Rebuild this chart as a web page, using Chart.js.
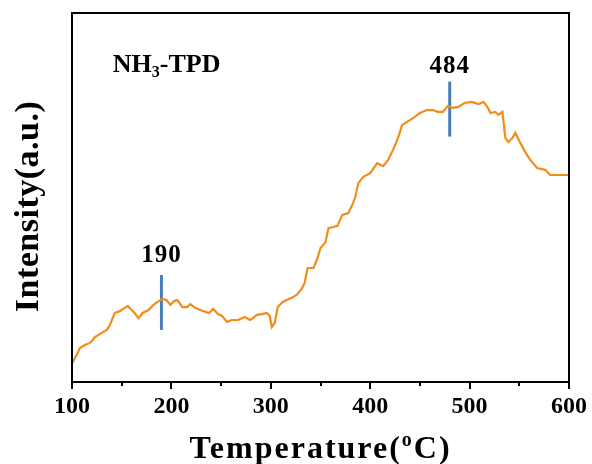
<!DOCTYPE html>
<html>
<head>
<meta charset="utf-8">
<script src="https://cdn.jsdelivr.net/npm/chart.js@4"></script>
<style>
  body { margin: 0; background: #fff; }
  canvas { display: block; }
</style>
</head>
<body>
<canvas id="tpdChart" width="592" height="464"></canvas>
<script>
// NH3-TPD curve (temperature in °C, intensity in arbitrary units)
const temps = [100,104,108,113,118,120,123,130,135,138,143,148,153,156,160,163,167,171,177,182,186,191,195,199,203,206,211,216,219,224,229,234,238,242,247,251,256,261,267,271,274,279,282,286,291,296,299,301,304,307,312,316,321,326,331,334,337,343,347,350,355,358,363,367,372,378,382,385,388,393,400,407,413,418,423,426,429,432,437,443,450,457,463,468,473,478,483,488,495,502,509,514,518,521,526,529,533,536,539,543,546,551,556,561,568,576,581,589,600];
const intensity = [5.0,7.0,9.2,10.0,10.6,11.1,12.2,13.3,14.1,15.4,18.7,19.2,20.1,20.6,19.5,18.7,17.3,18.7,19.5,20.9,21.7,22.5,22.2,20.9,22.0,22.2,20.3,20.3,21.1,20.1,19.5,19.0,18.7,19.8,18.4,17.9,16.3,16.8,16.8,17.3,17.6,16.8,17.3,18.2,18.4,18.7,17.9,14.9,16.0,20.3,21.7,22.2,22.8,23.6,25.2,26.8,30.9,30.9,33.6,36.3,37.9,41.7,42.0,42.3,45.3,45.8,48.0,50.1,53.9,55.6,56.6,59.3,58.5,60.2,62.9,64.8,66.9,69.6,70.5,71.5,72.9,73.7,73.7,73.2,73.2,74.8,74.3,74.5,75.6,75.9,75.3,75.9,74.5,72.9,73.2,72.4,73.2,66.1,65.0,66.1,67.5,64.8,62.3,60.2,58.0,57.5,56.1,56.1,56.1];

// peak markers
const peakTemps = [190, 480];
const peakLow = [14.1, 66.5];
const peakHigh = [29.0, 81.4];
const peakLabels = ["190", "484"];
const peakLabelY = [32.5, 83.7];

const xTicks = [100, 200, 300, 400, 500, 600];
const xMinorTicks = [150, 250, 350, 450, 550];

const serif = "'Liberation Serif', 'Times New Roman', serif";

const curve = temps.map((t, i) => ({ x: t, y: intensity[i] }));

const peakSets = peakTemps.map((t, i) => ({
    data: [{ x: t, y: peakLow[i] }, { x: t, y: peakHigh[i] }],
    borderColor: "#4A7EBB",
    borderWidth: 3,
    pointRadius: 0,
    borderCapStyle: "butt"
}));

const decorPlugin = {
    id: "decor",
    afterDraw(chart) {
        const ctx = chart.ctx;
        const area = chart.chartArea;
        const xs = chart.scales.x;
        const ys = chart.scales.y;
        ctx.save();

        // frame
        ctx.strokeStyle = "#000";
        ctx.lineWidth = 2;
        ctx.strokeRect(area.left, area.top, area.right - area.left, area.bottom - area.top);

        // minor ticks
        xMinorTicks.forEach(v => {
            const px = Math.round(xs.getPixelForValue(v));
            ctx.beginPath();
            ctx.moveTo(px, area.bottom);
            ctx.lineTo(px, area.bottom + 4);
            ctx.stroke();
        });

        ctx.fillStyle = "#000";

        // peak labels
        ctx.font = "bold 25px " + serif;
        ctx.textAlign = "center";
        ctx.textBaseline = "alphabetic";
        ctx.letterSpacing = "1px";
        peakLabels.forEach((txt, i) => {
            ctx.fillText(txt, xs.getPixelForValue(peakTemps[i]), ys.getPixelForValue(peakLabelY[i]));
        });

        // NH3-TPD label
        ctx.letterSpacing = "0px";
        ctx.textAlign = "left";
        let lx = xs.getPixelForValue(141);
        const ly = ys.getPixelForValue(84);
        ctx.font = "bold 26px " + serif;
        ctx.fillText("NH", lx, ly);
        lx += ctx.measureText("NH").width;
        ctx.font = "bold 16px " + serif;
        ctx.fillText("3", lx, ly + 5);
        lx += ctx.measureText("3").width;
        ctx.font = "bold 26px " + serif;
        ctx.fillText("-TPD", lx, ly);

        // x title with superscript
        ctx.letterSpacing = "2px";
        const big = "bold 32px " + serif;
        const small = "bold 20px " + serif;
        const parts = [["Temperature(", big, 0], ["o", small, -12], ["C)", big, 0]];
        let total = 0;
        parts.forEach(p => { ctx.font = p[1]; total += ctx.measureText(p[0]).width; });
        let tx = (area.left + area.right) / 2 - total / 2;
        parts.forEach(p => {
            ctx.font = p[1];
            ctx.fillText(p[0], tx, 458 + p[2]);
            tx += ctx.measureText(p[0]).width;
        });

        // y title
        ctx.letterSpacing = "0.5px";
        ctx.translate(38, (area.top + area.bottom) / 2 + 9);
        ctx.rotate(-Math.PI / 2);
        ctx.textAlign = "center";
        ctx.font = "bold 34px " + serif;
        ctx.fillText("Intensity(a.u.)", 0, 0);

        ctx.restore();
    }
};

new Chart(document.getElementById("tpdChart"), {
    type: "line",
    data: {
        datasets: [{
            data: curve,
            borderColor: "#F28D1C",
            borderWidth: 2.2,
            pointRadius: 0,
            tension: 0
        }, ...peakSets]
    },
    options: {
        responsive: false,
        animation: false,
        layout: { padding: { top: 13, right: 23, left: 0, bottom: 0 } },
        plugins: {
            legend: { display: false },
            tooltip: { enabled: false }
        },
        scales: {
            x: {
                type: "linear",
                min: 100,
                max: 600,
                afterBuildTicks: scale => { scale.ticks = xTicks.map(v => ({ value: v })); },
                afterFit: scale => { scale.height = 82; },
                ticks: {
                    color: "#000",
                    font: { family: serif, size: 24, weight: "bold" },
                    padding: 3,
                    maxRotation: 0
                },
                grid: {
                    drawOnChartArea: false,
                    drawTicks: true,
                    tickLength: 7,
                    color: "#000",
                    lineWidth: 2
                },
                border: { display: false }
            },
            y: {
                min: 0,
                max: 100,
                afterFit: scale => { scale.width = 72; },
                ticks: { display: false },
                grid: { display: false },
                border: { display: false }
            }
        }
    },
    plugins: [decorPlugin]
});
</script>
</body>
</html>
